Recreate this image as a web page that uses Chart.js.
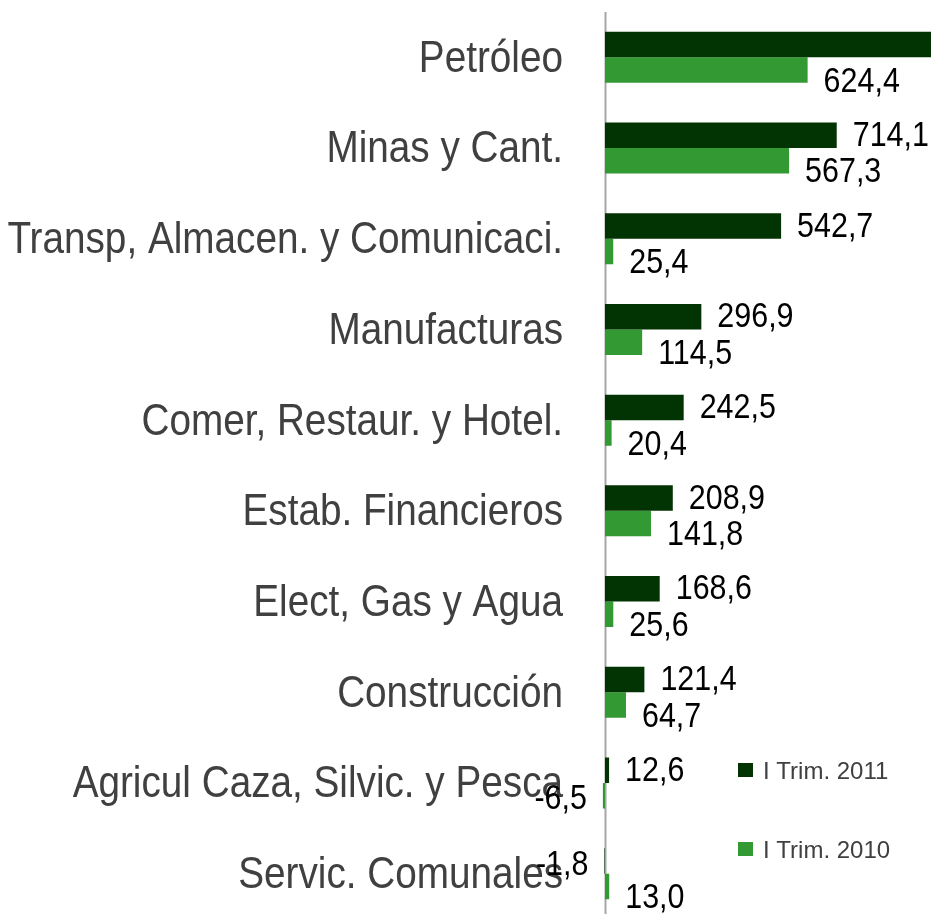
<!DOCTYPE html>
<html>
<head>
<meta charset="utf-8">
<script src="https://cdn.jsdelivr.net/npm/chart.js@4.4.1/dist/chart.umd.min.js"></script>
<style>
  html, body { margin: 0; padding: 0; background: #fff; overflow: hidden; }
  #wrap { position: relative; width: 931px; height: 919px; }
</style>
</head>
<body>
<div id="wrap"><canvas id="sectorChart"></canvas></div>
<script>
/* Sector chart: I Trim. 2011 vs I Trim. 2010 */

var categories = [
  'Petróleo',
  'Minas y Cant.',
  'Transp, Almacen. y Comunicaci.',
  'Manufacturas',
  'Comer, Restaur. y Hotel.',
  'Estab. Financieros',
  'Elect, Gas y Agua',
  'Construcción',
  'Agricul Caza, Silvic. y Pesca',
  'Servic. Comunales'
];
var seriesLabels = ['I Trim. 2011', 'I Trim. 2010'];
// Petróleo 2011 runs off the right edge in the picture; value estimated
var trim2011 = [1050.0, 714.1, 542.7, 296.9, 242.5, 208.9, 168.6, 121.4, 12.6, -1.8];
var trim2010 = [624.4, 567.3, 25.4, 114.5, 20.4, 141.8, 25.6, 64.7, -6.5, 13.0];

var fontFam  = "'Liberation Sans', Arial, sans-serif";
var colDark  = '#023302';
var colLight = '#339933';

function fmt(v) { return v.toFixed(1).replace('.', ','); }

// text squeezed horizontally (the source uses a narrow face)
function narrowText(ctx, txt, x, y, sx, align) {
  ctx.save();
  ctx.translate(x, y);
  ctx.scale(sx, 1);
  ctx.textAlign = align;
  ctx.fillText(txt, 0, 0);
  ctx.restore();
}

var sectorPlugin = {
  id: 'sectorPlugin',
  beforeDatasetsDraw: function (chart) {
    var ctx = chart.ctx, a = chart.chartArea;
    // zero axis line
    var x0 = Math.round(chart.scales.x.getPixelForValue(0)) + 0.5;
    ctx.save();
    ctx.strokeStyle = '#a6a6a6';
    ctx.lineWidth = 2;
    ctx.beginPath();
    ctx.moveTo(x0, a.top);
    ctx.lineTo(x0, a.bottom);
    ctx.stroke();

    // category labels
    var ys = chart.scales.y;
    ctx.font = '45px ' + fontFam;
    ctx.fillStyle = '#404040';
    ctx.textBaseline = 'middle';
    chart.data.labels.forEach(function (lab, i) {
      narrowText(ctx, lab, 563, ys.getPixelForValue(i) + 2, 0.86, 'right');
    });
    ctx.restore();
  },
  afterDatasetsDraw: function (chart) {
    var ctx = chart.ctx;
    var dy = [1, 12];
    ctx.save();
    ctx.font = '35px ' + fontFam;
    ctx.fillStyle = '#000';
    ctx.textBaseline = 'middle';
    chart.data.datasets.forEach(function (ds, di) {
      var meta = chart.getDatasetMeta(di);
      meta.data.forEach(function (bar, i) {
        var v = ds.data[i];
        if (v >= 0) narrowText(ctx, fmt(v), bar.x + 16, bar.y + dy[di], 0.87, 'left');
        else narrowText(ctx, fmt(v), bar.x - 16, bar.y + 4, 0.87, 'right');
      });
    });

    // legend
    var lx = 738, ly = [770, 849];
    ctx.font = '24px ' + fontFam;
    ctx.textAlign = 'left';
    chart.data.datasets.forEach(function (ds, di) {
      ctx.fillStyle = ds.backgroundColor;
      ctx.fillRect(lx, ly[di] - 7, 15, 14);
      ctx.fillStyle = '#404040';
      ctx.fillText(ds.label, lx + 25, ly[di] + 2);
    });
    ctx.restore();
  }
};

new Chart(document.getElementById('sectorChart'), {
  type: 'bar',
  data: {
    labels: categories,
    datasets: [
      { label: seriesLabels[0], data: trim2011, backgroundColor: colDark },
      { label: seriesLabels[1], data: trim2010, backgroundColor: colLight }
    ]
  },
  options: {
    indexAxis: 'y',
    responsive: true, maintainAspectRatio: false,
    animation: false,
    layout: { padding: { top: 12, right: 0, bottom: 0, left: 0 } },
    datasets: { bar: { categoryPercentage: 0.562, barPercentage: 1.0 } },
    plugins: { legend: { display: false }, tooltip: { enabled: false } },
    scales: {
      x: {
        display: false,
        min: -20, max: 1004.6
      },
      y: {
        afterFit: function (scale) {
          scale.width = 598.5;
          scale.paddingTop = 0;
          scale.paddingBottom = 0;
        },
        grid: { display: false, drawTicks: false },
        border: { display: false },
        ticks: { display: false }
      }
    }
  },
  plugins: [sectorPlugin]
});
</script>
</body>
</html>
